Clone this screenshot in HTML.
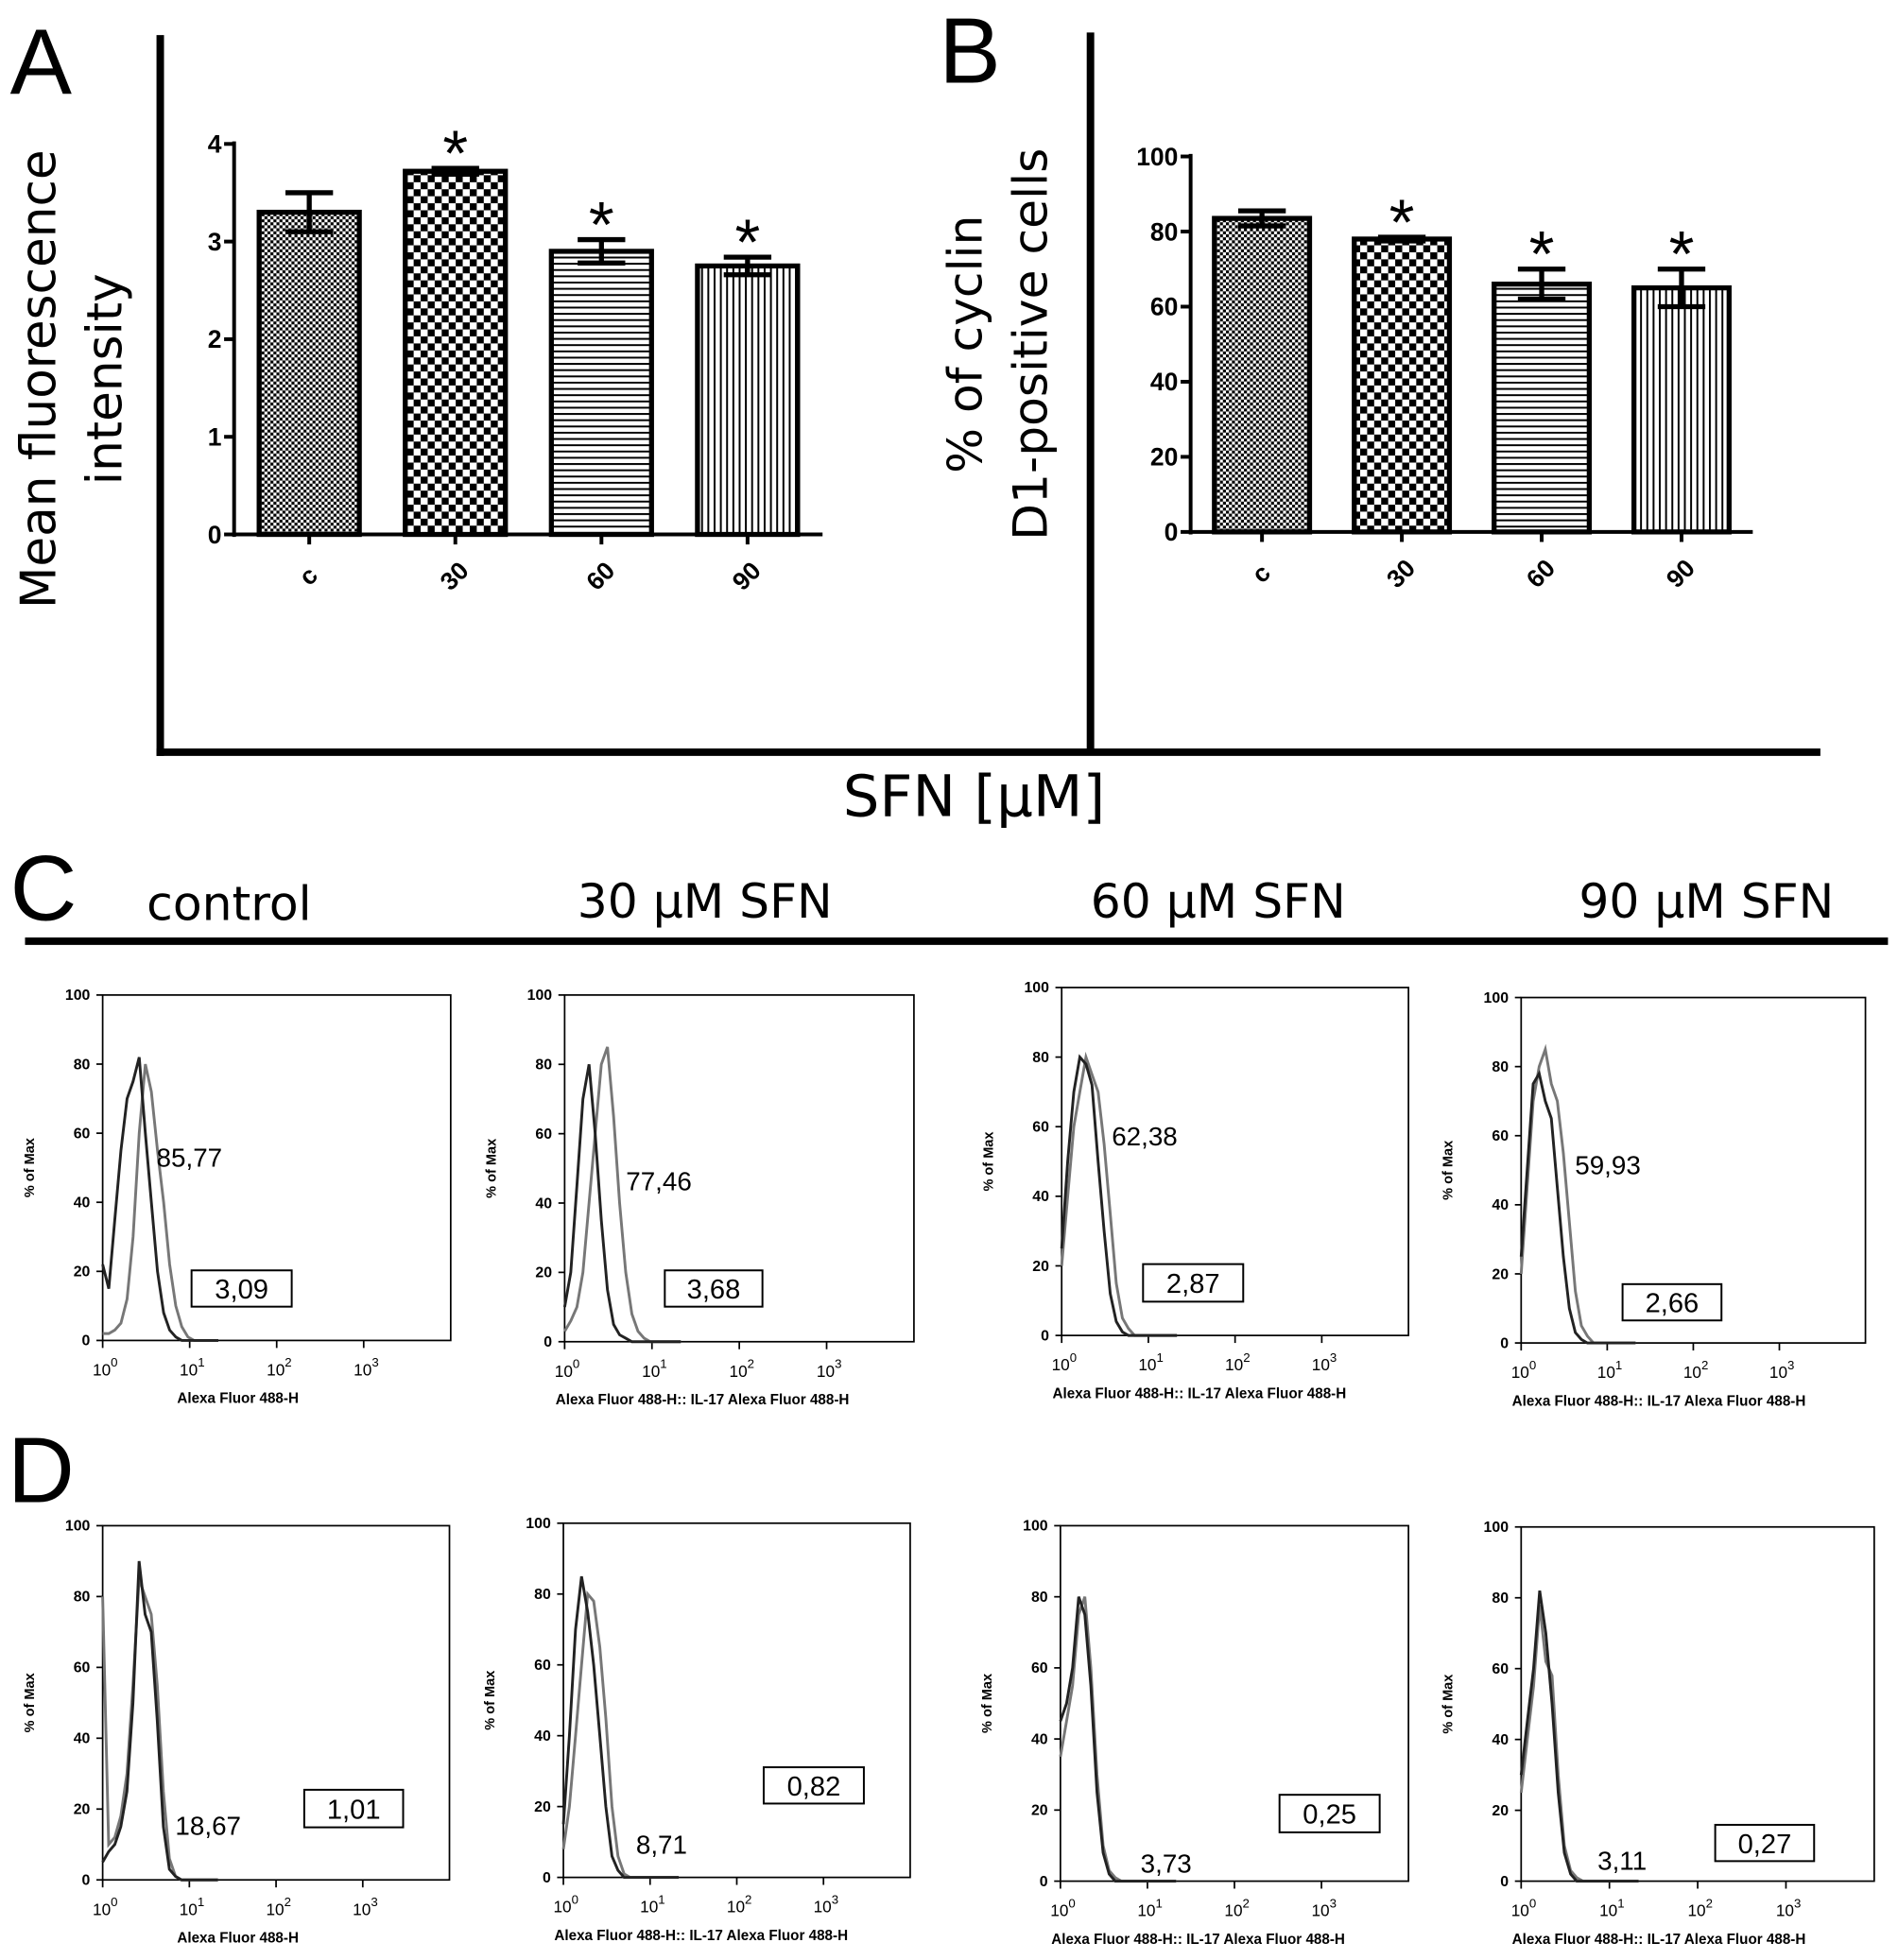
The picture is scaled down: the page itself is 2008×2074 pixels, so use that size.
<!DOCTYPE html>
<html><head><meta charset="utf-8"><style>
html,body{margin:0;padding:0;background:#fff}
svg{display:block}
text{font-family:"Liberation Sans","DejaVu Sans",sans-serif}
.dj{font-family:"DejaVu Sans","Liberation Sans",sans-serif}
</style></head><body>
<svg id="fig" width="2008" height="2074" viewBox="0 0 1516 1566" preserveAspectRatio="none" xmlns="http://www.w3.org/2000/svg">
<defs>
<pattern id="pFine" width="4.8" height="4.8" patternUnits="userSpaceOnUse"><rect width="4.8" height="4.8" fill="#fff"/><rect width="2.4" height="2.4" fill="#000"/><rect x="2.4" y="2.4" width="2.4" height="2.4" fill="#000"/></pattern>
<pattern id="pCoarse" width="11.2" height="11.2" patternUnits="userSpaceOnUse"><rect width="11.2" height="11.2" fill="#fff"/><rect width="5.6" height="5.6" fill="#000"/><rect x="5.6" y="5.6" width="5.6" height="5.6" fill="#000"/></pattern>
<pattern id="pH" width="6" height="5" patternUnits="userSpaceOnUse"><rect width="6" height="5" fill="#fff"/><rect width="6" height="1.5" fill="#000"/></pattern>
<pattern id="pV" width="5" height="6" patternUnits="userSpaceOnUse"><rect width="5" height="6" fill="#fff"/><rect width="1.5" height="6" fill="#000"/></pattern>
</defs>
<g id="static">
<text x="8" y="75" font-size="74">A</text>
<text x="750" y="66" font-size="74">B</text>
<text x="8" y="735" font-size="74">C</text>
<text x="6" y="1200" font-size="74">D</text>
<line x1="128" y1="28" x2="128" y2="604" stroke="#000" stroke-width="6"/>
<line x1="871" y1="26" x2="871" y2="600" stroke="#000" stroke-width="6"/>
<line x1="125" y1="601" x2="1454" y2="601" stroke="#000" stroke-width="6"/>
<text class="dj" x="778" y="652" font-size="46" text-anchor="middle">SFN [μM]</text>
<text class="dj" transform="translate(44,303) rotate(-90)" font-size="39" text-anchor="middle">Mean fluorescence</text>
<text class="dj" transform="translate(97,303) rotate(-90)" font-size="39" text-anchor="middle">intensity</text>
<text class="dj" transform="translate(784,275) rotate(-90)" font-size="38" text-anchor="middle">% of cyclin</text>
<text class="dj" transform="translate(836,275) rotate(-90)" font-size="38" text-anchor="middle">D1-positive cells</text>
<line x1="20" y1="752" x2="1508" y2="752" stroke="#000" stroke-width="6"/>
<text class="dj" x="183" y="735" font-size="38" text-anchor="middle">control</text>
<text class="dj" x="563" y="733" font-size="38" text-anchor="middle">30 μM SFN</text>
<text class="dj" x="973" y="733" font-size="38" text-anchor="middle">60 μM SFN</text>
<text class="dj" x="1363" y="733" font-size="38" text-anchor="middle">90 μM SFN</text>
</g>
<g id="dyn"></g>
</svg>
<script>
// Bar chart data
const barCats = ['c','30','60','90'];
const valsA = [3.3, 3.72, 2.9, 2.75];
const errA = [0.2, 0.03, 0.12, 0.09];
const sigA = [false, true, true, true];
const ticksA = [0,1,2,3,4];
const valsB = [83.5, 78, 66, 65];
const errB = [2, 0.5, 4, 5];
const sigB = [false, true, true, true];
const ticksB = [0,20,40,60,80,100];

// Histogram data: y (% of max) sampled at log10 x = 0,0.07,0.14,...
const histLabels = ['85,77','77,46','62,38','59,93','18,67','8,71','3,73','3,11'];
const histBoxVals = ['3,09','3,68','2,87','2,66','1,01','0,82','0,25','0,27'];
const darkC1 = [22,15,35,55,70,75,82,60,40,20,8,3,1,0,0,0,0,0,0,0];
const grayC1 = [2,2,3,5,12,30,60,80,72,55,40,22,10,4,1,0,0,0,0,0];
const darkC2 = [10,20,45,70,80,60,35,15,5,2,1,0,0,0,0,0,0,0,0,0];
const grayC2 = [3,6,10,20,40,60,80,85,65,40,20,8,3,1,0,0,0,0,0,0];
const darkC3 = [25,50,70,80,78,72,50,30,12,4,1,0,0,0,0,0,0,0,0,0];
const grayC3 = [20,40,60,70,80,75,70,55,35,15,5,2,0,0,0,0,0,0,0,0];
const darkC4 = [25,50,75,78,70,65,45,25,10,3,1,0,0,0,0,0,0,0,0,0];
const grayC4 = [20,45,70,80,85,75,70,55,35,15,5,2,0,0,0,0,0,0,0,0];
const darkD1 = [5,8,10,15,25,50,90,75,70,45,15,3,1,0,0,0,0,0,0,0];
const grayD1 = [80,10,12,18,30,55,85,80,75,55,25,6,1,0,0,0,0,0,0,0];
const darkD2 = [15,40,70,85,75,60,40,20,6,2,0,0,0,0,0,0,0,0,0,0];
const grayD2 = [8,20,40,60,80,78,65,45,20,6,1,0,0,0,0,0,0,0,0,0];
const darkD3 = [45,50,60,80,75,55,25,8,2,0,0,0,0,0,0,0,0,0,0,0];
const grayD3 = [35,45,55,75,80,60,30,10,3,1,0,0,0,0,0,0,0,0,0,0];
const darkD4 = [30,45,60,82,70,50,25,8,2,0,0,0,0,0,0,0,0,0,0,0];
const grayD4 = [25,40,55,78,62,58,30,10,3,1,0,0,0,0,0,0,0,0,0,0];
const darkSeries = [darkC1,darkC2,darkC3,darkC4,darkD1,darkD2,darkD3,darkD4];
const graySeries = [grayC1,grayC2,grayC3,grayC4,grayD1,grayD2,grayD3,grayD4];
const xDecadeLabels = ['0','1','2','3'];

const NS='http://www.w3.org/2000/svg';
const dyn=document.getElementById('dyn');
function el(tag,attrs,parent){const e=document.createElementNS(NS,tag);for(const k in attrs)e.setAttribute(k,attrs[k]);(parent||dyn).appendChild(e);return e;}

function barChart(cfg){
  const g=el('g',{});
  
  
  const y=v=>cfg.y0-(v-cfg.min)/(cfg.max-cfg.min)*(cfg.y0-cfg.y1);
  const ax=el('line',{x1:cfg.ax,y1:y(cfg.max)-2,x2:cfg.ax,y2:cfg.y0+2,stroke:'#000','stroke-width':3},g);
  
  
  const bx=el('line',{x1:cfg.ax,y1:cfg.y0,x2:cfg.axEnd,y2:cfg.y0,stroke:'#000','stroke-width':3},g);
  
  
  cfg.ticks.forEach(t=>{
    el('line',{x1:cfg.ax-8,y1:y(t),x2:cfg.ax,y2:y(t),stroke:'#000','stroke-width':3},g);
    const tx=el('text',{x:cfg.ax-10,y:y(t)+7,'font-size':20,'font-weight':'bold','text-anchor':'end'},g);
    tx.textContent=t;
    
    
  });
  const pats=['url(#pFine)','url(#pCoarse)','url(#pH)','url(#pV)'];
  cfg.vals.forEach((v,i)=>{
    const cx=cfg.x0+i*cfg.step, w=cfg.bw;
    const r=el('rect',{x:cx-w/2,y:y(v),width:w,height:cfg.y0-y(v),fill:pats[i],stroke:'#000','stroke-width':4},g);
    
    
    const e=cfg.err[i];
    const eb=el('path',{d:`M${cx},${y(v+e)}V${y(v-e)}M${cx-19},${y(v+e)}H${cx+19}M${cx-19},${y(v-e)}H${cx+19}`,stroke:'#000','stroke-width':4,fill:'none'},g);
    
    
    el('line',{x1:cx,y1:cfg.y0,x2:cx,y2:cfg.y0+8,stroke:'#000','stroke-width':3},g);
    const tl=el('text',{transform:`translate(${cx+4},${cfg.y0+38}) rotate(-45)`,'font-size':20,'font-weight':'bold','text-anchor':'middle'},g);
    tl.textContent=cfg.cats[i];
    
    
    if(cfg.sig[i]){
      const s=el('text',{x:cx,y:y(v+e)+6,'font-size':52,'text-anchor':'middle'},g);
      s.textContent='*';
      
      
    }
  });
}
barChart({name:'chart-a',vals:valsA,err:errA,sig:sigA,cats:barCats,ticks:ticksA,min:0,max:4,y0:427,y1:115,ax:187,axEnd:657,x0:247,step:116.7,bw:80});
barChart({name:'chart-b',vals:valsB,err:errB,sig:sigB,cats:barCats,ticks:ticksB,min:0,max:100,y0:425,y1:125,ax:951,axEnd:1400,x0:1008,step:111.7,bw:76});

const panels=[
 {x:82,y:795,w:278,h:276,lx:125,ly:932,bx:153,by:1015,bw:80,bh:29},
 {x:451,y:795,w:279,h:277,lx:500,ly:951,bx:531,by:1015,bw:78,bh:29},
 {x:848,y:789,w:277,h:278,lx:888,ly:915,bx:913,by:1010,bw:80,bh:30},
 {x:1215,y:797,w:275,h:276,lx:1258,ly:938,bx:1296,by:1026,bw:79,bh:29},
 {x:82,y:1219,w:277,h:283,lx:140,ly:1466,bx:243,by:1430,bw:79,bh:30},
 {x:450,y:1217,w:277,h:283,lx:508,ly:1481,bx:610,by:1412,bw:80,bh:29},
 {x:847,y:1219,w:278,h:284,lx:911,ly:1496,bx:1022,by:1434,bw:80,bh:30},
 {x:1215,y:1220,w:282,h:283,lx:1276,ly:1494,bx:1370,by:1458,bw:79,bh:29}
];
panels.forEach((p,k)=>{
  const g=el('g',{});
  
  
  const X=d=>p.x+d/4*p.w, Y=v=>p.y+p.h-v/100*p.h;
  el('rect',{x:p.x,y:p.y,width:p.w,height:p.h,fill:'none',stroke:'#000','stroke-width':1.3},g);
  [0,20,40,60,80,100].forEach(t=>{
    el('line',{x1:p.x-5,y1:Y(t),x2:p.x,y2:Y(t),stroke:'#000','stroke-width':1.3},g);
    const tt=el('text',{x:p.x-10,y:Y(t)+4,'font-size':12,'font-weight':'bold','text-anchor':'end'},g);
    tt.textContent=t;
    
    
  });
  xDecadeLabels.forEach((d,i)=>{
    el('line',{x1:X(i),y1:p.y+p.h,x2:X(i),y2:p.y+p.h+6,stroke:'#000','stroke-width':1.3},g);
    const tt=el('text',{x:X(i)-8,y:p.y+p.h+28,'font-size':13},g);
    tt.innerHTML='10<tspan dy="-7" font-size="10">'+d+'</tspan>';
    
    
  });
  const yt=el('text',{transform:`translate(${p.x-55},${p.y+p.h/2}) rotate(-90)`,'font-size':11,'font-weight':'bold','text-anchor':'middle'},g);
  yt.textContent='% of Max';
  
  
  const xt=el('text',{x:p.x+(k%4==0?108:110),y:p.y+p.h+50,'font-size':11.5,'font-weight':'bold','text-anchor':'middle'},g);
  xt.textContent=(k%4==0)?'Alexa Fluor 488-H':'Alexa Fluor 488-H:: IL-17 Alexa Fluor 488-H';
  
  
  [[graySeries[k],'#777'],[darkSeries[k],'#222']].forEach(([s,c])=>{
    const d=s.map((v,i)=>(i?'L':'M')+X(i*0.07).toFixed(1)+','+Y(v).toFixed(1)).join('');
    const pl=el('path',{d:d,fill:'none',stroke:c,'stroke-width':2.2},g);
    
    
  });
  const lb=el('text',{x:p.lx,y:p.ly,'font-size':21},g);
  lb.textContent=histLabels[k];
  
  
  el('rect',{x:p.bx,y:p.by,width:p.bw,height:p.bh,fill:'#fff',stroke:'#000','stroke-width':1.5},g);
  const bt=el('text',{x:p.bx+p.bw/2,y:p.by+p.bh/2+8,'font-size':22,'text-anchor':'middle'},g);
  bt.textContent=histBoxVals[k];
  
  
});
</script>
</body></html>
